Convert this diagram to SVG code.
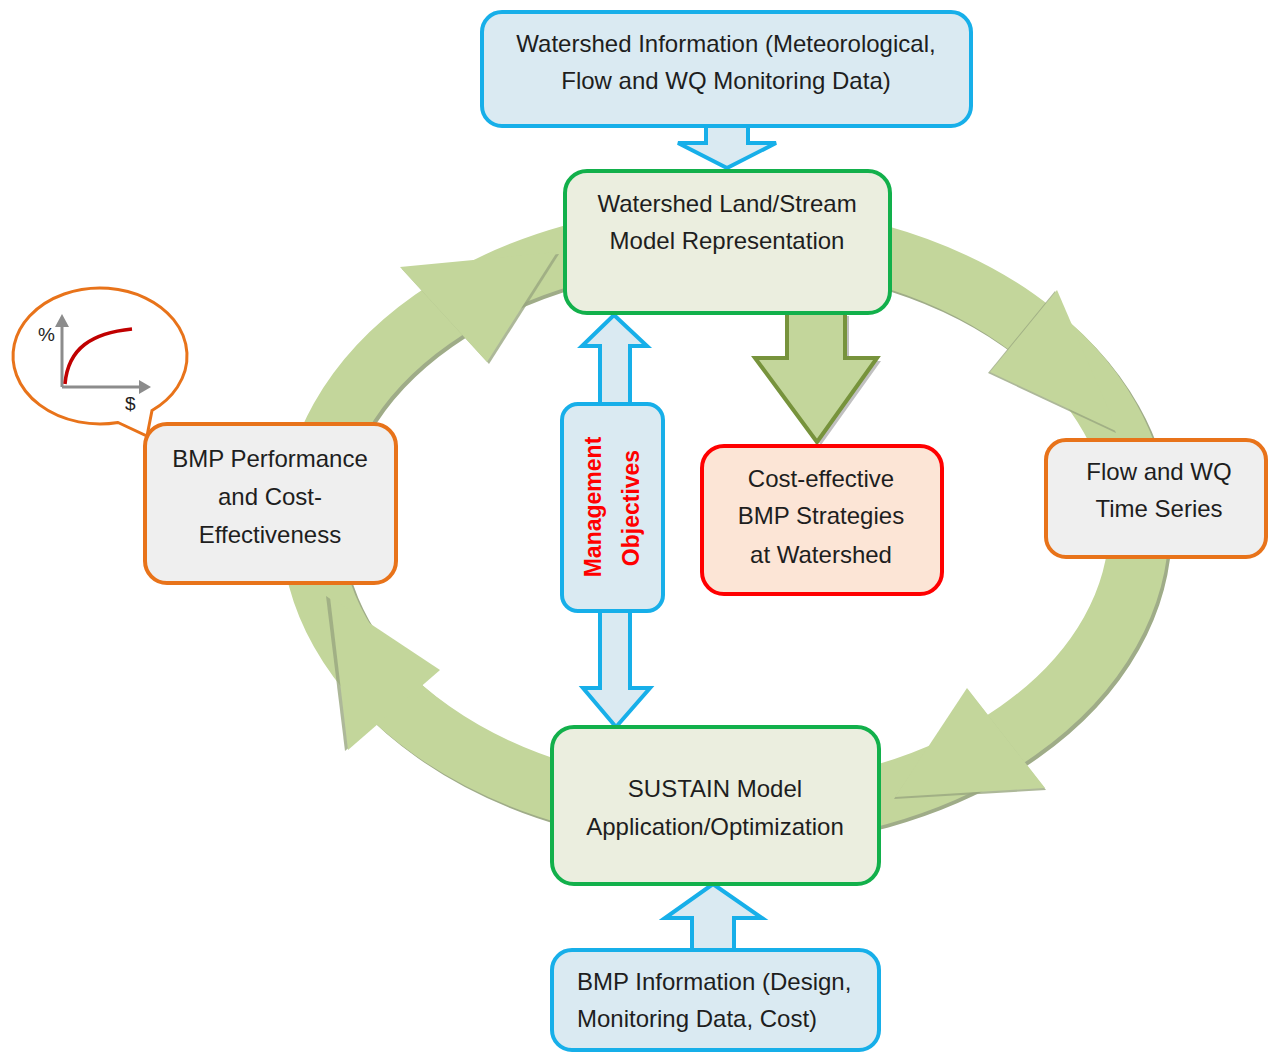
<svg xmlns="http://www.w3.org/2000/svg" width="1268" height="1054" viewBox="0 0 1268 1054">
<style>
.t{font-family:"Liberation Sans",Arial,sans-serif;font-size:24px;fill:#1e1e1e;text-anchor:middle}
.bl{fill:#daeaf2;stroke:#17afe9;stroke-width:4}
.gr{fill:#ebeedf;stroke:#12b04b;stroke-width:4}
.or{fill:#efefef;stroke:#e8731a;stroke-width:4}
.rd{fill:#fce5d6;stroke:#ff0000;stroke-width:4}
.ring{fill:none;stroke:#c3d69b;stroke-width:60}
.ringsh{fill:none;stroke:#9fac88;stroke-width:60}
.ah{fill:#c3d69b}
.ahs{fill:#98a67f;opacity:.8}
.mo{font-family:"Liberation Sans",Arial,sans-serif;font-size:23px;font-weight:bold;fill:#ff0000;text-anchor:middle}
.ax{stroke:#8c8c8c;stroke-width:3;fill:none}
</style>
<rect width="1268" height="1054" fill="#ffffff"/>
<g id="connectors">
  <ellipse class="ringsh" cx="728" cy="528" rx="414" ry="291"/>
  <ellipse class="ring" cx="725" cy="525" rx="414" ry="291"/>
  <polygon class="ahs" points="402,269 559,254 489,364"/>
  <polygon class="ah" points="400,267 557,252 487,362"/>
  <polygon class="ahs" points="988,373 1055,291 1116,433"/>
  <polygon class="ah" points="990,372 1057,290 1118,432"/>
  <polygon class="ahs" points="968,690 1046,790 894,799"/>
  <polygon class="ah" points="967,688 1045,788 895,797"/>
  <polygon class="ahs" points="437,671 345,751 326,596"/>
  <polygon class="ah" points="440,670 348,750 330,597"/>
  <polygon class="bl" points="706,126 748,126 748,143 776,143 727,168 678,143 706,143"/>
  <polygon points="791,316 849,316 849,361 881,361 821,445 759,361 791,361" fill="#8c8c8c" opacity=".55"/>
  <polygon points="787,313 845,313 845,358 877,358 817,442 755,358 787,358" fill="#c3d69b" stroke="#77933c" stroke-width="4"/>
  <polygon class="bl" points="600,404 600,346 582,346 614,315 647,346 630,346 630,404"/>
  <polygon class="bl" points="600,611 630,611 630,688 650,688 616,727 583,688 600,688"/>
  <polygon class="bl" points="692,950 692,918 665,918 713,884 762,918 734,918 734,950"/>
</g>
<g id="node-watershed-info">
  <rect class="bl" x="482" y="12" width="489" height="114" rx="20"/>
  <text class="t" x="726" y="52">Watershed Information (Meteorological,</text>
  <text class="t" x="726" y="89">Flow and WQ Monitoring Data)</text>
</g>
<g id="node-model-representation">
  <rect class="gr" x="565" y="171" width="325" height="142" rx="22"/>
  <text class="t" x="727" y="212">Watershed Land/Stream</text>
  <text class="t" x="727" y="249">Model Representation</text>
</g>
<g id="node-cost-effective">
  <rect class="rd" x="702" y="446" width="240" height="148" rx="22"/>
  <text class="t" x="821" y="487">Cost-effective</text>
  <text class="t" x="821" y="524">BMP Strategies</text>
  <text class="t" x="821" y="563">at Watershed</text>
</g>
<g id="node-management-objectives">
  <rect class="bl" x="562" y="404" width="101" height="207" rx="16"/>
  <text class="mo" transform="translate(601,507) rotate(-90)">Management</text>
  <text class="mo" transform="translate(639,508) rotate(-90)">Objectives</text>
</g>
<g id="node-sustain">
  <rect class="gr" x="552" y="727" width="327" height="157" rx="22"/>
  <text class="t" x="715" y="797">SUSTAIN Model</text>
  <text class="t" x="715" y="835">Application/Optimization</text>
</g>
<g id="node-bmp-info">
  <rect class="bl" x="552" y="950" width="327" height="100" rx="20"/>
  <text class="t" x="577" y="990" style="text-anchor:start">BMP Information (Design,</text>
  <text class="t" x="577" y="1027" style="text-anchor:start">Monitoring Data, Cost)</text>
</g>
<g id="node-flow-wq">
  <rect class="or" x="1046" y="440" width="220" height="117" rx="20"/>
  <text class="t" x="1159" y="480">Flow and WQ</text>
  <text class="t" x="1159" y="517">Time Series</text>
</g>
<g id="node-bmp-performance">
  <rect class="or" x="145" y="424" width="251" height="159" rx="22"/>
  <text class="t" x="270" y="467">BMP Performance</text>
  <text class="t" x="270" y="505">and Cost-</text>
  <text class="t" x="270" y="543">Effectiveness</text>
</g>
<g id="callout">
  <path d="M118,422.5 L147,436 L152,410.5 A87,68 0 1,0 118,422.5 Z" fill="#ffffff" stroke="#e8731a" stroke-width="3"/>
  <line class="ax" x1="62" y1="387" x2="62" y2="324"/>
  <polygon points="55,327 69,327 62,314" fill="#8c8c8c"/>
  <line class="ax" x1="62" y1="387" x2="140" y2="387"/>
  <polygon points="139,380 139,394 151,387" fill="#8c8c8c"/>
  <path d="M65,384 C68,348 92,333 132,329" fill="none" stroke="#c00000" stroke-width="3.5"/>
  <text x="38" y="341" style="font-family:'Liberation Sans',Arial,sans-serif;font-size:19px;fill:#1e1e1e">%</text>
  <text x="125" y="410" style="font-family:'Liberation Sans',Arial,sans-serif;font-size:19px;fill:#1e1e1e">$</text>
</g>
</svg>
